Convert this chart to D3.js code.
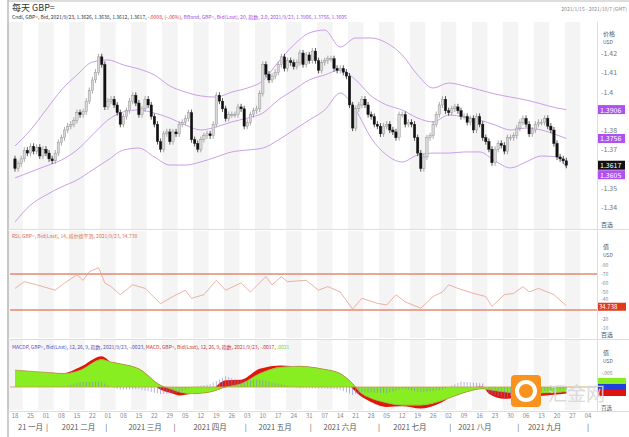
<!DOCTYPE html>
<html><head><meta charset="utf-8">
<script src="https://cdn.jsdelivr.net/npm/d3@7"></script>
<style>body{margin:0;background:#fff}svg{display:block;font-family:"Noto Sans CJK SC","Noto Sans",sans-serif}</style>
</head><body><svg id="c" width="629" height="437"></svg>
<script>
// ---- data ----
const closes = [
1.3600,1.3625,1.3650,1.3695,1.3680, 1.3715,1.3690,1.3710,1.3665,1.3700,
1.3680,1.3650,1.3640,1.3680,1.3735, 1.3760,1.3800,1.3820,1.3830,1.3850,
1.3890,1.3880,1.3895,1.3950,1.4005, 1.4060,1.4100,1.4180,1.4140,1.3920,
1.3950,1.3960,1.3930,1.3890,1.3830, 1.3870,1.3900,1.3950,1.3980,1.3940,
1.3880,1.3910,1.3960,1.3930,1.3870, 1.3830,1.3740,1.3700,1.3780,1.3790,
1.3740,1.3790,1.3780,1.3830,1.3840, 1.3860,1.3890,1.3750,1.3730,1.3700,
1.3750,1.3770,1.3780,1.3770,1.3830, 1.3980,1.3950,1.3910,1.3860,1.3880,
1.3880,1.3880,1.3920,1.3910,1.3820, 1.3840,1.3880,1.3900,1.3910,1.3990,
1.4140,1.4090,1.4060,1.4080,1.4100, 1.4140,1.4180,1.4120,1.4160,1.4150,
1.4130,1.4150,1.4200,1.4140,1.4190, 1.4160,1.4210,1.4160,1.4110,1.4150,
1.4160,1.4170,1.4170,1.4120,1.4110, 1.4120,1.4100,1.4080,1.3930,1.3810,
1.3910,1.3930,1.3960,1.3930,1.3880, 1.3870,1.3830,1.3820,1.3780,1.3820,
1.3830,1.3800,1.3790,1.3760,1.3880, 1.3880,1.3830,1.3840,1.3830,1.3760,
1.3680,1.3600,1.3660,1.3760,1.3770, 1.3830,1.3880,1.3930,1.3960,1.3900,
1.3890,1.3910,1.3920,1.3900,1.3870, 1.3870,1.3840,1.3860,1.3800,1.3870,
1.3830,1.3760,1.3740,1.3700,1.3630, 1.3700,1.3730,1.3720,1.3690,1.3760,
1.3760,1.3770,1.3810,1.3840,1.3860, 1.3830,1.3780,1.3800,1.3830,1.3840,
1.3840,1.3860,1.3820,1.3800,1.3730, 1.3660,1.3650,1.3640,1.3617];
const firstOpen = 1.3650;
const bandIdx = [0,5,10,15,20,25,30,35,40,45,50,55,60,65,70,75,80,85,90,95,100,105,110,115,120,125,130,135,140,145,150,155,160,165,170,175,178];
const bbUpper = [1.3717,1.3800,1.3904,1.4008,1.4086,1.4153,1.4164,1.4138,1.4117,1.4086,1.4029,1.3997,1.3977,1.3971,1.3997,1.4018,1.4055,1.4153,1.4242,1.4304,1.4319,1.4231,1.4278,1.4278,1.4252,1.4190,1.4086,1.4018,1.4044,1.4029,1.4008,1.3987,1.3971,1.3956,1.3935,1.3914,1.3906];
const bbMid = [1.3551,1.3582,1.3613,1.3644,1.3696,1.3774,1.3852,1.3894,1.3904,1.3888,1.3862,1.3826,1.3800,1.3816,1.3842,1.3862,1.3888,1.3956,1.4008,1.4060,1.4086,1.4112,1.4060,1.3977,1.3930,1.3904,1.3862,1.3842,1.3878,1.3868,1.3852,1.3826,1.3800,1.3810,1.3800,1.3774,1.3756];
const bbLower = [1.3322,1.3410,1.3462,1.3504,1.3540,1.3592,1.3644,1.3696,1.3706,1.3660,1.3618,1.3618,1.3634,1.3660,1.3686,1.3696,1.3706,1.3748,1.3800,1.3852,1.3904,1.3992,1.3904,1.3758,1.3670,1.3634,1.3670,1.3680,1.3680,1.3686,1.3686,1.3639,1.3603,1.3634,1.3665,1.3660,1.3605];
const rsiIdx = [0,3,7,11,13,16,20,22,24,27,29,31,34,38,42,47,51,55,57,61,65,68,73,76,81,83,86,88,94,98,101,105,109,112,117,120,123,126,131,135,138,140,143,148,152,154,158,161,164,166,169,174,178];
const rsiVal = [54,61.5,58,54,52,60,69,63,72.6,77,60,56,47,58,54,37,45,52,43,47,63,52,60,50,67,58,67,61.5,63,52,56,50,31,43,37.4,35.6,47,39,32,45,50,58,54,48.5,45,34,47,48.5,56,50,54,47,34.7];
const macdIdx = [0,8,16,21,28,31,34,40,47,51,53,57,63,68,73,79,86,92,99,105,109,112,114,120,125,131,138,144,151,153,158,164,174,178];
const signalVal = [.0060,.0054,.0048,.0060,.0098,.0089,.0083,.0065,.0006,-.0010,-.0018,-.0024,-.0018,.0000,.0012,.0048,.0071,.0074,.0065,.0048,.0012,-.0024,-.0036,-.0057,-.0065,-.0065,-.0048,-.0024,-.0006,-.0010,-.0018,-.0024,-.0020,-.0017];
const macdVal = [.0060,.0054,.0050,.0071,.0110,.0089,.0077,.0060,-.0010,-.0024,-.0030,-.0024,-.0012,.0024,.0026,.0065,.0077,.0071,.0062,.0042,-.0006,-.0036,-.0048,-.0071,-.0069,-.0077,-.0054,-.0012,.0002,-.0024,-.0042,-.0036,-.0028,-.0023];
const dayLabels = ["18","25","01","08","15","22","01","08","15","22","29","05","12","19","26","03","10","17","24","31","07","14","21","28","05","12","19","26","02","09","16","23","30","06","13","20","27","04"];
const monthLabels = [["21 一月",1.0],["2021 二月",4.1],["2021 三月",8.4],["2021 四月",12.6],["2021 五月",16.8],["2021 六月",21],["2021 七月",25.5],["2021 八月",29.7],["2021 九月",34.2]];
const monthSeps = [2.06,5.9,10.3,14.9,19.1,23.5,28.1,32.5,37];
const priceTicks = [1.42,1.41,1.40,1.38,1.37,1.35,1.34];
const rsiTicks = [80,70,60,50,40,20,10];

// ---- chart ----
const svg = d3.select("#c");
const L=10, R=597;
const x = d3.scaleLinear().domain([0,185]).range([15,588]);
const yP = d3.scaleLinear().domain([1.34,1.42]).range([207,53]);
const yR = d3.scaleLinear().domain([30,70]).range([310,274]);
const yM = d3.scaleLinear().domain([0,.005]).range([387,373]);

const panels=[[22,229],[231,338],[340,410]];
for(let w=0;w<38;w++){ if(w%2===0) panels.forEach(p=>svg.append("rect").attr("x",x(w*5-2.5)).attr("y",p[0]).attr("width",x(5)-x(0)).attr("height",p[1]-p[0]).attr("fill","#f4f4f4"));}
svg.append("rect").attr("x",R).attr("y",0).attr("width",32).attr("height",437).attr("fill","#fff");
svg.append("line").attr("x1",8).attr("x2",8).attr("y1",0).attr("y2",437).attr("stroke","#999");
svg.append("line").attr("x1",8).attr("x2",629).attr("y1",1).attr("y2",1).attr("stroke","#bbb");
[229,339,411].forEach(y=>svg.append("line").attr("x1",8).attr("x2",629).attr("y1",y+.5).attr("y2",y+.5).attr("stroke","#ddd"));
svg.append("line").attr("x1",R+.5).attr("x2",R+.5).attr("y1",22).attr("y2",411).attr("stroke","#ddd");

svg.append("text").attr("x",12).attr("y",11).attr("font-size",9).attr("fill","#333").text("每天 GBP=");
svg.append("text").attr("x",627).attr("y",11).attr("font-size",5).attr("text-anchor","end").attr("fill","#888").text("2021/1/15 - 2021/10/7 (GMT)");
const t1=svg.append("text").attr("x",12).attr("y",19).attr("font-size",5);
t1.append("tspan").attr("fill","#333").text("Cndl, GBP=, Bid, 2021/9/23, 1.3626, 1.3638, 1.3612, 1.3617, ");
t1.append("tspan").attr("fill","#e03030").text("-.0008, (-.06%), ");
t1.append("tspan").attr("fill","#a050e0").text("BBand, GBP=, Bid(Last), 20, 指数, 2.0, 2021/9/23, 1.3906, 1.3756, 1.3605");
svg.append("text").attr("x",12).attr("y",238).attr("font-size",5).attr("fill","#e07050").text("RSI, GBP=, Bid(Last), 14, 威尔德平滑, 2021/9/23, 34.738");
const t3=svg.append("text").attr("x",12).attr("y",349).attr("font-size",5);
t3.append("tspan").attr("fill","#5050c0").text("MACDP, GBP=, Bid(Last), 12, 26, 9, 指数, 2021/9/23, -.0023, ");
t3.append("tspan").attr("fill","#d03030").text("MACD, GBP=, Bid(Last), 12, 26, 9, 指数, 2021/9/23, -.0017, ");
t3.append("tspan").attr("fill","#80d040").text(".0021");

const gP = svg.append("g");
const band = (arr)=>d3.line().x((d,i)=>x(bandIdx[i])).y(d=>yP(d)).curve(d3.curveMonotoneX)(arr);
[bbUpper,bbMid,bbLower].forEach(a=>gP.append("path").attr("d",band(a)).attr("fill","none").attr("stroke","#c9a0e8").attr("stroke-width",1));
const bars = closes.map((c,i)=>({i,c,o:i?closes[i-1]:firstOpen}));
bars.forEach(b=>{
  const up=b.c>=b.o, hi=Math.max(b.o,b.c)+.0016, lo=Math.min(b.o,b.c)-.0016;
  gP.append("line").attr("x1",x(b.i)).attr("x2",x(b.i)).attr("y1",yP(hi)).attr("y2",yP(lo)).attr("stroke",up?"#888":"#111").attr("stroke-width",.7);
  const top=yP(Math.max(b.o,b.c)), h=Math.max(1,Math.abs(yP(b.o)-yP(b.c)));
  gP.append("rect").attr("x",x(b.i)-1.2).attr("y",top).attr("width",2.4).attr("height",h).attr("fill",up?"#d8d8d8":"#111").attr("stroke",up?"#888":"#111").attr("stroke-width",.4);
});
const ax=R+4;
svg.append("text").attr("x",ax+2).attr("y",36).attr("font-size",6).attr("fill","#555").text("价格");
svg.append("text").attr("x",ax+2).attr("y",44).attr("font-size",5).attr("fill","#555").text("USD");
priceTicks.forEach(v=>svg.append("text").attr("x",ax).attr("y",yP(v)+3).attr("font-size",7).attr("fill","#777").text("-"+(+v.toFixed(2))));
const lastY=yP(1.3617);
[["1.3906",yP(bbUpper[36]),"#b050f0"],["1.3756",yP(bbMid[36]),"#b050f0"],["1.3617",lastY,"#111"],["1.3605",lastY+9.5,"#b050f0"]].forEach(([t,yy,c])=>{
  svg.append("rect").attr("x",R+1).attr("y",yy-4.5).attr("width",27).attr("height",9).attr("fill",c);
  svg.append("text").attr("x",R+3).attr("y",yy+3).attr("font-size",7).attr("fill","#fff").text(t);});
svg.append("text").attr("x",ax).attr("y",227).attr("font-size",6).attr("fill","#555").text("百选");

[70,30].forEach(v=>svg.append("line").attr("x1",L).attr("x2",R).attr("y1",yR(v)).attr("y2",yR(v)).attr("stroke","#e88870").attr("stroke-width",1.3));
svg.append("path").attr("d",d3.line().x((d,i)=>x(rsiIdx[i])).y(d=>yR(d))(rsiVal)).attr("fill","none").attr("stroke","#e8a090").attr("stroke-width",.8);
svg.append("text").attr("x",ax+2).attr("y",249).attr("font-size",6).attr("fill","#555").text("值");
svg.append("text").attr("x",ax+2).attr("y",257).attr("font-size",5).attr("fill","#555").text("USD");
rsiTicks.forEach(v=>svg.append("text").attr("x",ax).attr("y",yR(v)+(v===40?0:2)).attr("font-size",5).attr("fill","#888").text("-"+v));
svg.append("rect").attr("x",R+1).attr("y",yR(34.738)-3).attr("width",28).attr("height",8).attr("fill","#e03a1a");
svg.append("text").attr("x",R+2).attr("y",yR(34.738)+3.5).attr("font-size",6).attr("fill","#fff").text("34.738");
svg.append("text").attr("x",ax).attr("y",337).attr("font-size",6).attr("fill","#555").text("百选");

const gM = svg.append("g");
const curve=d3.curveMonotoneX;
gM.append("path").attr("d",d3.area().x((d,i)=>x(macdIdx[i])).y0((d,i)=>yM(signalVal[i])).y1(d=>yM(d)).curve(curve)(macdVal)).attr("fill","#e0180c");
gM.append("path").attr("d",d3.area().x((d,i)=>x(macdIdx[i])).y0(yM(0)).y1(d=>yM(d)).curve(curve)(signalVal)).attr("fill","#88ee22");
const mI=d3.scaleLinear().domain(macdIdx).range(macdVal), sI=d3.scaleLinear().domain(macdIdx).range(signalVal);
bars.forEach(b=>{const h=(mI(b.i)-sI(b.i))*1.6; gM.append("line").attr("x1",x(b.i)).attr("x2",x(b.i)).attr("y1",yM(0)).attr("y2",yM(h)).attr("stroke","#8080e0").attr("stroke-width",.6);});
gM.append("line").attr("x1",L).attr("x2",R).attr("y1",yM(0)).attr("y2",yM(0)).attr("stroke","#c8a040").attr("stroke-width",.8);
gM.append("path").attr("d",d3.line().x((d,i)=>x(macdIdx[i])).y(d=>yM(d)).curve(curve)(signalVal)).attr("fill","none").attr("stroke","#b08040").attr("stroke-width",.6);
svg.append("text").attr("x",ax+2).attr("y",355).attr("font-size",6).attr("fill","#555").text("值");
svg.append("text").attr("x",ax+2).attr("y",363).attr("font-size",5).attr("fill","#555").text("USD");
svg.append("text").attr("x",ax).attr("y",yM(.005)+2).attr("font-size",5).attr("fill","#888").text("-.005");
[["#88ee22",-6],["#2040e0",0],["#e01010",6]].forEach(([c,o])=>svg.append("rect").attr("x",R+1).attr("y",yM(0)+o-3).attr("width",28).attr("height",6).attr("fill",c));
svg.append("text").attr("x",ax).attr("y",409.5).attr("font-size",5.5).attr("fill","#555").text("百选");
svg.append("rect").attr("x",511).attr("y",375).attr("width",30).attr("height",32).attr("rx",4).attr("fill","#f7931e");
svg.append("circle").attr("cx",526).attr("cy",391).attr("r",9).attr("fill","none").attr("stroke","#fff").attr("stroke-width",4);
svg.append("text").attr("x",548).attr("y",401).attr("font-size",19).attr("fill","#d8d8d8").attr("opacity",.9).text("汇金网");

dayLabels.forEach((t,w)=>svg.append("text").attr("x",x(w*5)).attr("y",418).attr("text-anchor","middle").attr("font-size",6).attr("fill","#888").text(t));
monthLabels.forEach(([t,w])=>svg.append("text").attr("x",x(w*5)).attr("y",430).attr("text-anchor","middle").attr("font-size",7.5).attr("fill","#555").text(t));
monthSeps.forEach(w=>svg.append("text").attr("x",x(w*5)).attr("y",430).attr("text-anchor","middle").attr("font-size",7.5).attr("fill","#555").text("|"));
</script></body></html>
